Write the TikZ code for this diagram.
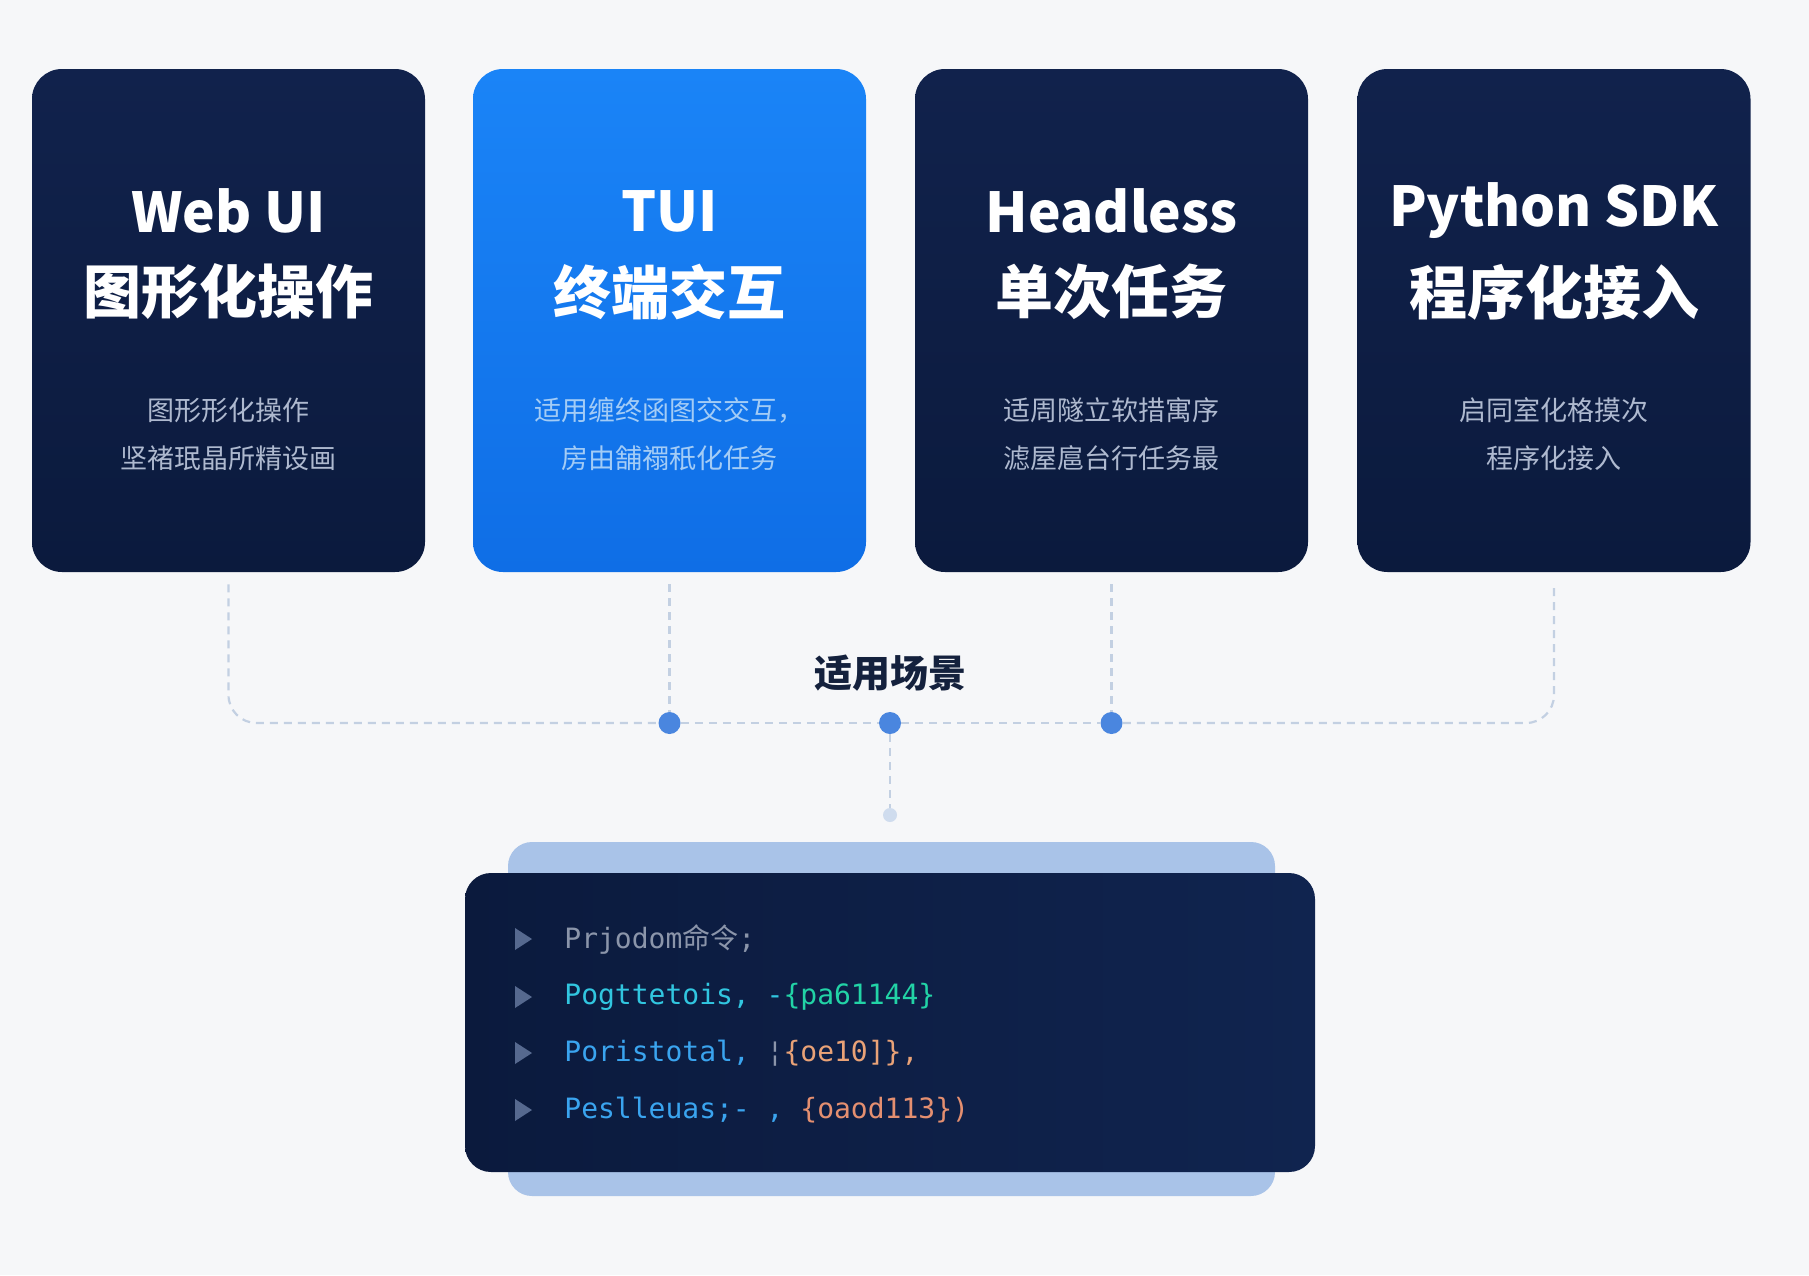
\documentclass[tikz,border=0pt]{standalone}
\usepackage{fontspec}
\setmainfont{Noto Sans CJK SC}
\newfontfamily\codefont{DejaVu Sans Mono}
\usetikzlibrary{shapes.geometric}
\definecolor{bgc}{HTML}{F6F7F9}
\definecolor{navyT}{HTML}{11224C}
\definecolor{navyB}{HTML}{0B1A3D}
\definecolor{blueT}{HTML}{1A84F7}
\definecolor{blueB}{HTML}{0F6EE6}
\definecolor{subD}{HTML}{AEB9CF}
\definecolor{subB}{HTML}{A3CCF6}
\definecolor{conn}{HTML}{C3D0E2}
\definecolor{dotc}{HTML}{4A86DF}
\definecolor{dotl}{HTML}{CFDCEE}
\definecolor{labc}{HTML}{14213D}
\definecolor{backc}{HTML}{A9C3E8}
\definecolor{codeL}{HTML}{0B1A3D}
\definecolor{codeR}{HTML}{10244F}
\definecolor{trc}{HTML}{56698F}
\definecolor{cgrey}{HTML}{8B95AA}
\definecolor{ccyan}{HTML}{31C6E0}
\definecolor{cgreen}{HTML}{22D3A6}
\definecolor{cblue}{HTML}{3AA4EF}
\definecolor{corange}{HTML}{E9A277}
\definecolor{corange2}{HTML}{E48F70}
\begin{document}
\begin{tikzpicture}[x=0.5pt,y=-0.5pt,
  card/.style={rounded corners=15pt, minimum width=196.5pt, minimum height=251.5pt, inner sep=0pt},
  darkcard/.style={card, top color=navyT, bottom color=navyB},
  bluecard/.style={card, top color=blueT, bottom color=blueB},
  titlelat/.style={text=white, font=\fontsize{27.5}{32}\selectfont\bfseries, inner sep=0pt},
  titlecjk/.style={text=white, font=\fontsize{29}{34}\selectfont\bfseries, inner sep=0pt},
  subd/.style={text=subD, font=\fontsize{13.5}{16}\selectfont, inner sep=0pt},
  subb/.style={text=subB, font=\fontsize{13.5}{16}\selectfont, inner sep=0pt},
  connline/.style={draw=conn, line width=1.1pt, dash pattern=on 4pt off 3pt},
  bigdot/.style={circle, fill=dotc, minimum size=11pt, inner sep=0pt},
  smalldot/.style={circle, fill=dotl, minimum size=7pt, inner sep=0pt},
  codeline/.style={anchor=west, inner sep=0pt, font=\codefont\fontsize{14}{17}\selectfont},
  tri/.style={fill=trc}
]
\useasboundingbox[fill=bgc] (0,0) rectangle (1809,1275);

% cards
\node[darkcard] (c1) at (228.5,320.5) {};
\node[bluecard] (c2) at (669.5,320.5) {};
\node[darkcard] (c3) at (1111.5,320.5) {};
\node[darkcard] (c4) at (1554,320.5) {};

% titles
\node[titlelat] (t1a) at (228.5,211) {Web UI};
\node[titlecjk] (t1b) at (228.5,292) {图形化操作};
\node[titlelat] (t2a) at (669.5,211) {TUI};
\node[titlecjk] (t2b) at (669.5,292) {终端交互};
\node[titlelat] (t3a) at (1111.5,211) {Headless};
\node[titlecjk] (t3b) at (1111.5,292) {单次任务};
\node[titlelat] (t4a) at (1554,211) {Python SDK};
\node[titlecjk] (t4b) at (1554,292) {程序化接入};

% subtitles
\node[subd] (s1a) at (228.5,410) {图形形化操作};
\node[subd] (s1b) at (228.5,458) {坚褚珉晶所精设画};
\node[subb] (s2a) at (669.5,410) {适用缠终函图交交互，};
\node[subb] (s2b) at (669.5,458) {房由舗禤秖化任务};
\node[subd] (s3a) at (1111.5,410) {适周隧立软措寓序};
\node[subd] (s3b) at (1111.5,458) {滤屋扈台行任务最};
\node[subd] (s4a) at (1554,410) {启同室化格摸次};
\node[subd] (s4b) at (1554,458) {程序化接入};

% connector dots
\node[bigdot] (d2) at (669.5,723) {};
\node[bigdot] (dc) at (890,723) {};
\node[bigdot] (d3) at (1111.5,723) {};
\node[smalldot] (de) at (890,815) {};

\coordinate (a1) at ([yshift=-6pt]c1.south);
\coordinate (a2) at ([yshift=-6pt]c2.south);
\coordinate (a3) at ([yshift=-6pt]c3.south);
\coordinate (a4) at ([yshift=-6pt]c4.south);

\draw[connline, rounded corners=14pt] (a1) |- (d2.west);
\draw[connline] (d2.east) -- (dc.west);
\draw[connline] (dc.east) -- (d3.west);
\draw[connline, rounded corners=14pt] (d3.east) -| (a4);
\draw[connline] (a2) -- (d2.north);
\draw[connline] (a3) -- (d3.north);
\draw[connline] (dc.south) -- (de.north);

\node[text=labc, font=\fontsize{19}{22}\selectfont\bfseries, inner sep=0pt] (lbl) at (890,673) {适用场景};

% code box
\node[rounded corners=12pt, fill=backc, minimum width=383.5pt, minimum height=177pt, inner sep=0pt] (cb) at (891.5,1019) {};
\node[rounded corners=13pt, left color=codeL, right color=codeR, minimum width=425pt, minimum height=149.5pt, inner sep=0pt] (cf) at (890,1022.5) {};

% markers
\fill[tri] (515,928) -- ++(17,11) -- ++(-17,11) -- cycle;
\fill[tri] (515,986) -- ++(17,11) -- ++(-17,11) -- cycle;
\fill[tri] (515,1042) -- ++(17,11) -- ++(-17,11) -- cycle;
\fill[tri] (515,1099) -- ++(17,11) -- ++(-17,11) -- cycle;

% code lines
\node[codeline, text=cgrey] (l1) at (564,939) {Prjodom{\fontspec{Noto Sans CJK SC}命令};};
\node[codeline] (l2) at (564,997) {\textcolor{ccyan}{Pogttetois, -}\textcolor{cgreen}{\{pa61144\}}};
\node[codeline] (l3) at (564,1053) {\textcolor{cblue}{Poristotal,}~\textcolor{cgrey}{¦}\textcolor{corange}{\{oe10]\},}};
\node[codeline] (l4) at (564,1110) {\textcolor{cblue}{Peslleuas;- ,}~\textcolor{corange2}{\{oaod113\})}};
\end{tikzpicture}
\end{document}
